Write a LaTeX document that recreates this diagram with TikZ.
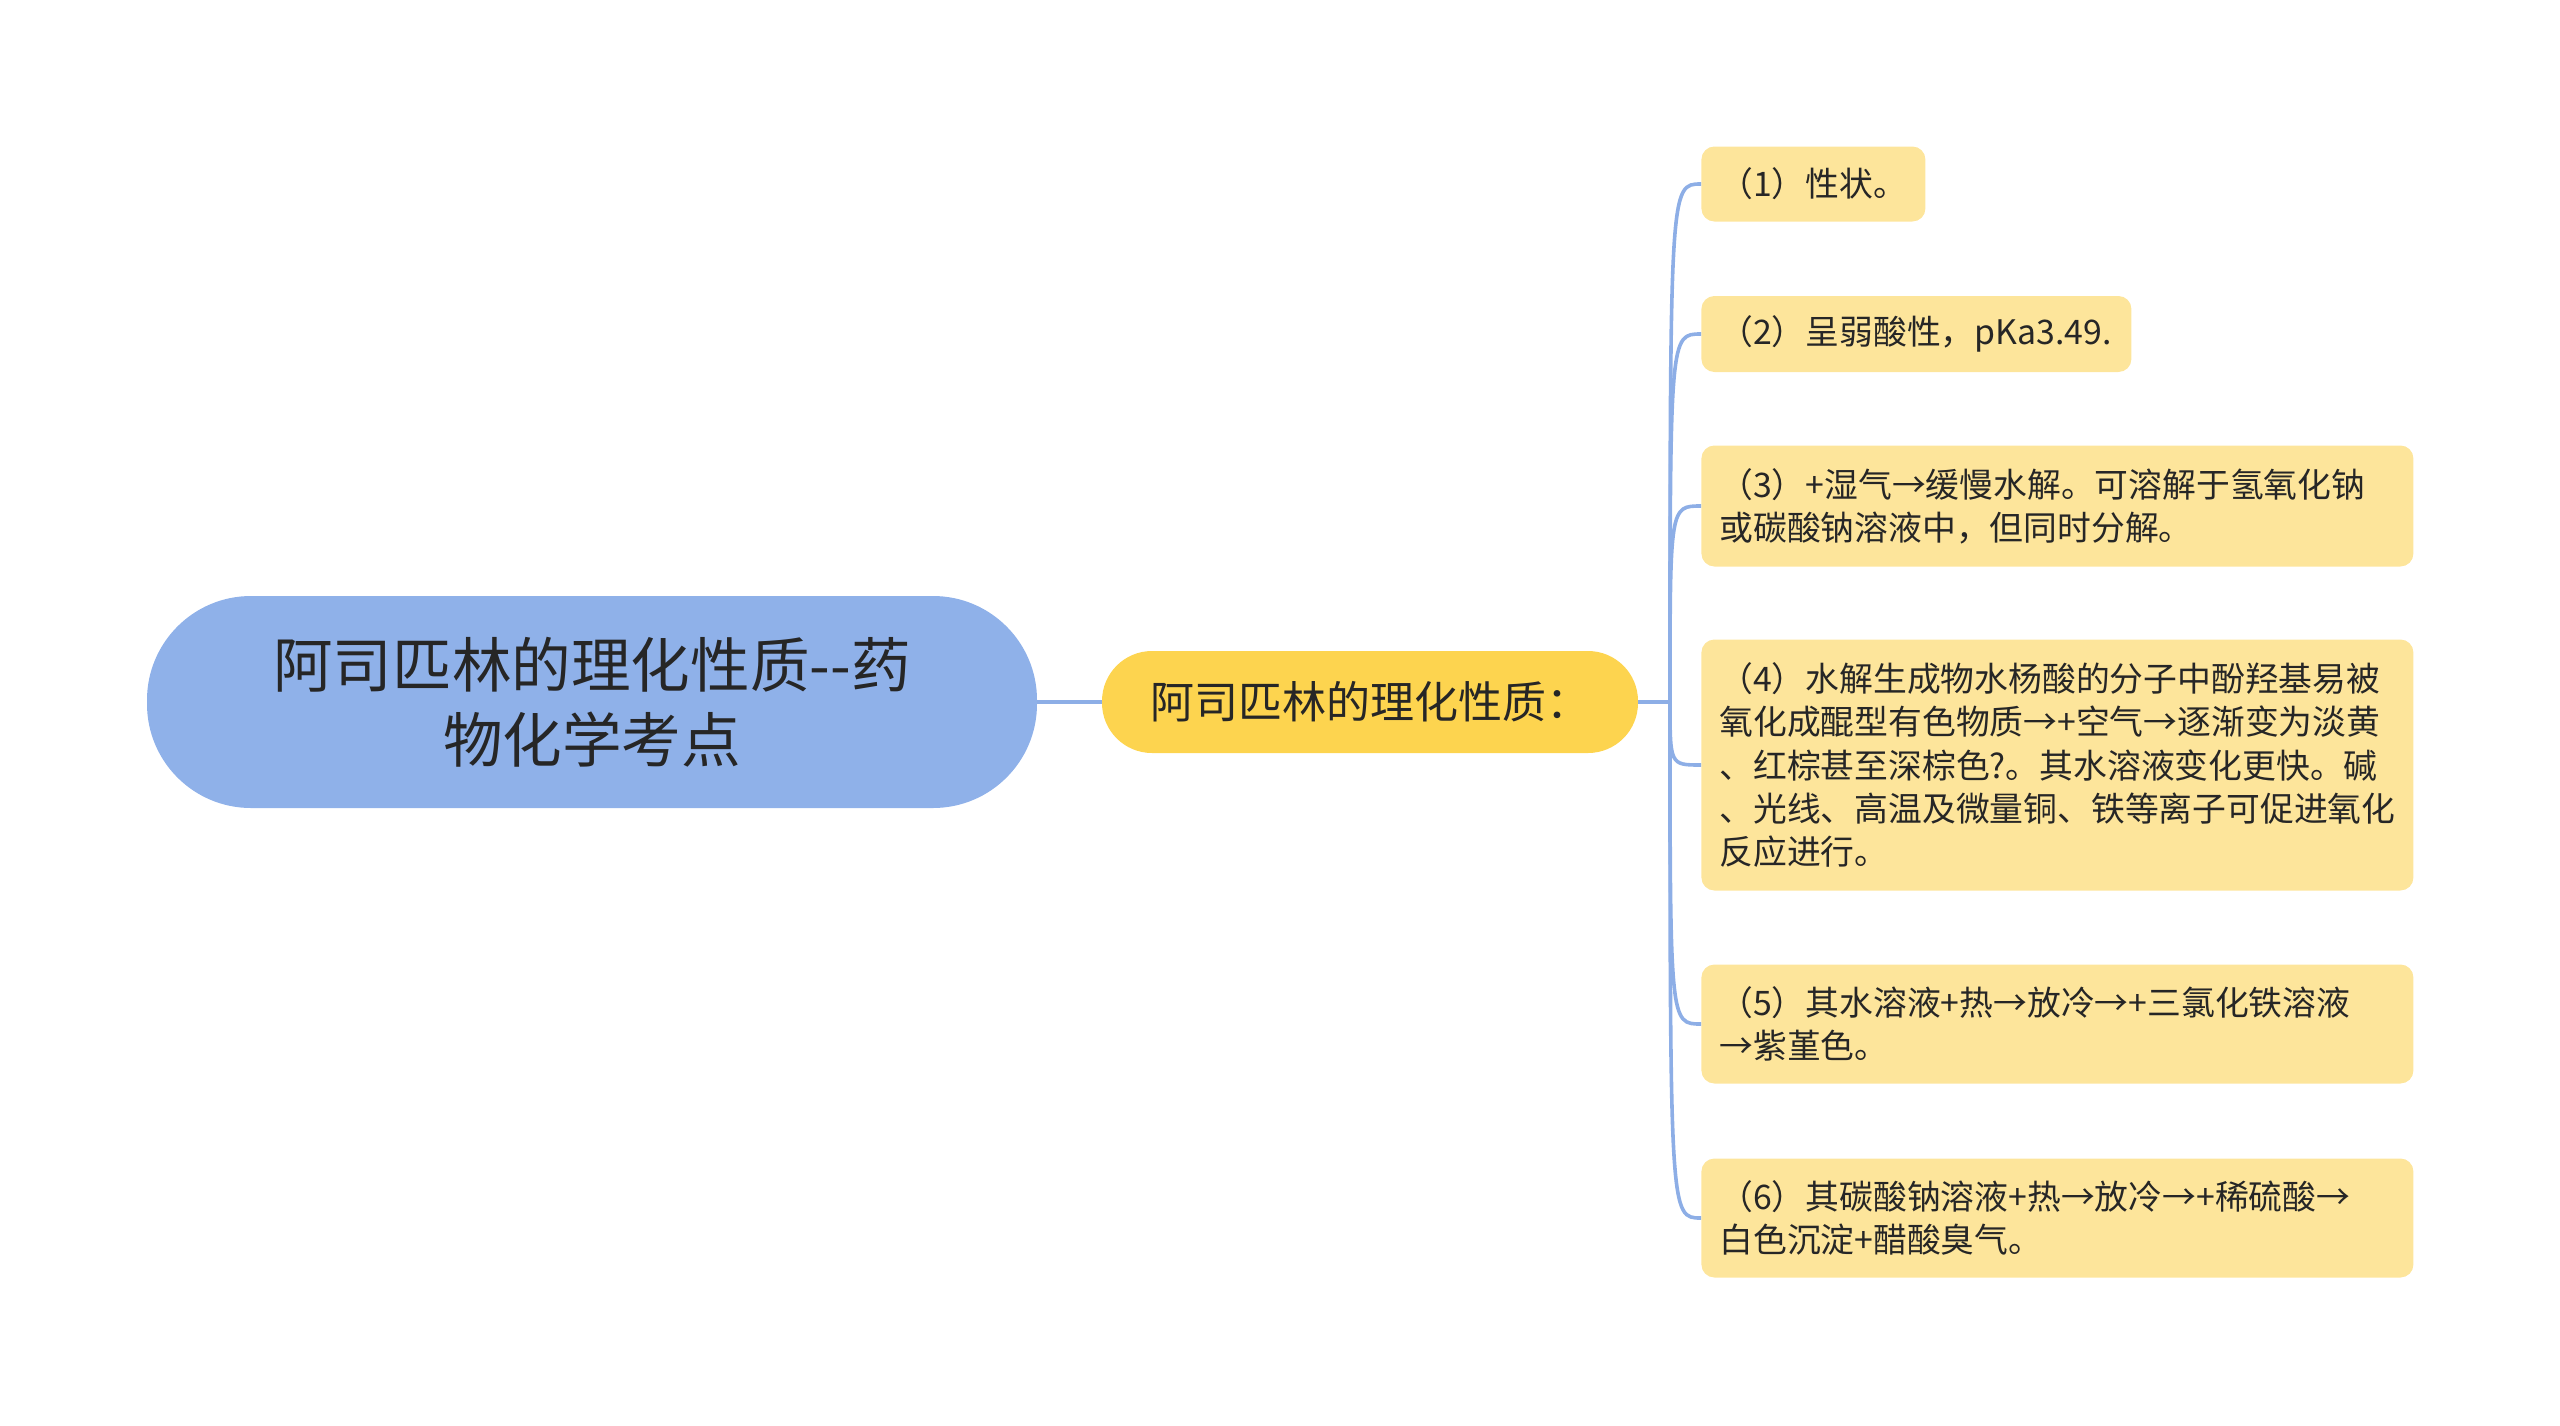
\documentclass[tikz,border=0pt]{standalone}
\usepackage{fontspec}
\setmainfont{Noto Sans CJK SC}
\definecolor{rootblue}{HTML}{8FB1E9}
\definecolor{topicyellow}{HTML}{FDD44F}
\definecolor{leafyellow}{HTML}{FDE59B}
\definecolor{linkblue}{HTML}{8DAEE6}
\definecolor{textgray}{HTML}{262626}

\begin{document}
\begin{tikzpicture}[x=0.5pt, y=-0.5pt,
		link/.style={draw=linkblue, line width=1.8pt},
		root/.style={shape=rectangle, rounded corners=52pt, fill=rootblue, text=textgray,
	minimum width=445pt, minimum height=106pt, align=center, font=\fontsize{29.8pt}{37.5pt}\selectfont},
		topic/.style={shape=rectangle, rounded corners=25pt, fill=topicyellow, text=textgray,
	minimum width=268pt, minimum height=51pt, font=\fontsize{22pt}{26pt}\selectfont},
		leaf/.style={shape=rectangle, rounded corners=6.5pt, fill=leafyellow, text=textgray, anchor=west,
	align=left, inner xsep=9pt, inner ysep=0pt, text width=#1, font=\fontsize{16.9pt}{21.6pt}\selectfont},
		leaf/.default=338pt]
			\useasboundingbox (0,0) rectangle (2560,1425);
			\node[root] (root) at (592,702) {阿司匹林的理化性质-{}-药\\物化学考点};
			\node[topic] (topic) at (1370,702) {阿司匹林的理化性质：};
			\node[leaf=94pt, minimum height=37.5pt] (p1) at (1701,184) {（1）性状。};
			\node[leaf=197pt, minimum height=38pt] (p2) at (1701,334) {（2）呈弱酸性，pKa3.49.};
			\node[leaf, minimum height=60.5pt] (p3) at (1701,506) {（3）+湿气→缓慢水解。可溶解于氢氧化钠\\或碳酸钠溶液中，但同时分解。};
			\node[leaf, minimum height=125.5pt] (p4) at (1701,765) {（4）水解生成物水杨酸的分子中酚羟基易被\\氧化成醌型有色物质→+空气→逐渐变为淡黄\\、红棕甚至深棕色?。其水溶液变化更快。碱\\、光线、高温及微量铜、铁等离子可促进氧化\\反应进行。};
			\node[leaf, minimum height=59.5pt] (p5) at (1701,1024) {（5）其水溶液+热→放冷→+三氯化铁溶液\\→紫堇色。};
			\node[leaf, minimum height=59.5pt] (p6) at (1701,1218) {（6）其碳酸钠溶液+热→放冷→+稀硫酸→\\白色沉淀+醋酸臭气。};
			\coordinate (hub) at (1670,702);
			\draw[link] (root) -- (topic);
			\draw[link] (topic.east) -- (hub);
			\foreach \p in {p1,p2,p3,p4,p5,p6}
				\draw[link] (hub) .. controls (hub |- \p.west) .. (\p.west);
		\end{tikzpicture}
\end{document}
